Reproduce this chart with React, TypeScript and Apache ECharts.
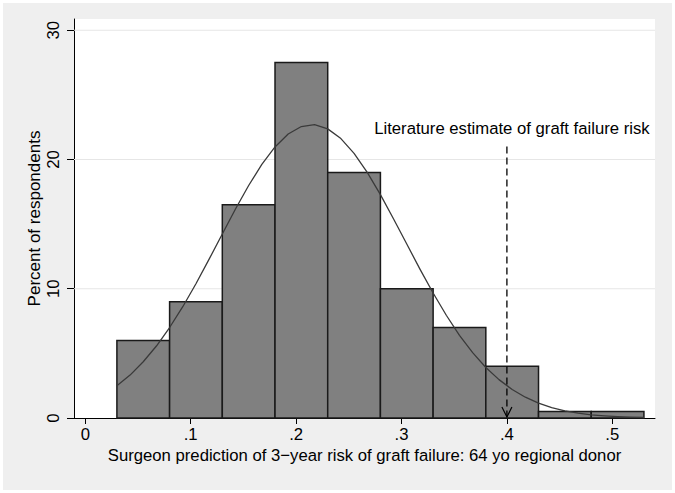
import React, { useEffect, useRef } from 'react';
import * as echarts from 'echarts';

// Histogram bins (lower/upper edges) and percent of respondents
const binLower = [0.03, 0.08, 0.13, 0.18, 0.23, 0.28, 0.33, 0.38, 0.43, 0.48];
const binUpper = [0.08, 0.13, 0.18, 0.23, 0.28, 0.33, 0.38, 0.43, 0.48, 0.53];
const percents = [6, 9, 16.5, 27.5, 19, 10, 7, 4, 0.5, 0.5];

// Overlaid normal density curve
const curveX = [0.03, 0.0425, 0.055, 0.0675, 0.08, 0.0925, 0.105, 0.1175, 0.13, 0.1425,
  0.155, 0.1675, 0.18, 0.1925, 0.205, 0.2175, 0.23, 0.2425, 0.255, 0.2675, 0.28, 0.2925,
  0.305, 0.3175, 0.33, 0.3425, 0.355, 0.3675, 0.38, 0.3925, 0.405, 0.4175, 0.43, 0.4425,
  0.455, 0.4675, 0.48, 0.4925, 0.505, 0.5175, 0.53];
const curveY = [2.49, 3.32, 4.35, 5.57, 7.0, 8.61, 10.39, 12.29, 14.24, 16.17,
  17.99, 19.62, 20.97, 21.97, 22.55, 22.69, 22.37, 21.62, 20.47, 19.0, 17.28, 15.4,
  13.46, 11.52, 9.67, 7.95, 6.4, 5.06, 3.91, 2.97, 2.21, 1.61, 1.15, 0.8,
  0.55, 0.37, 0.24, 0.16, 0.1, 0.06, 0.04];

const xTicks = [0, 0.1, 0.2, 0.3, 0.4, 0.5];
const yTicks = [0, 10, 20, 30];
const gridValues = [10, 20, 30];

const literatureEstimate = 0.4;
const arrowTop = 21;
const annotationY = 22.4;
const annotationText = 'Literature estimate of graft failure risk';
const xTitle = 'Surgeon prediction of 3\u2212year risk of graft failure: 64 yo regional donor';
const yTitle = 'Percent of respondents';

const X_MIN = -0.0107;
const X_MAX = 0.5405;
const Y_MIN = 0;
const Y_MAX = 30.87;

const FONT = 'Liberation Sans, Arial, sans-serif';
const FS = 16.7;

export default function App() {
  const ref = useRef<HTMLDivElement>(null);

  useEffect(() => {
    document.body.style.margin = '0';
    if (!ref.current) return;
    const chart = echarts.init(ref.current, undefined, { renderer: 'svg' });

    const bars = binLower.map((lo, i) => [lo, binUpper[i], percents[i]]);
    const curve = curveX.map((x, i) => [x, curveY[i]]);

    const fmtX = (v: number) => {
      if (Math.abs(v) < 1e-9) return '0';
      return v.toFixed(1).replace(/^0\./, '.');
    };

    chart.setOption({
      animation: false,
      backgroundColor: '#EFEFEF',
      grid: {
        left: 71,
        top: 16,
        right: 17,
        bottom: 72,
        show: true,
        backgroundColor: '#FFFFFF',
        borderWidth: 0,
      },
      xAxis: {
        type: 'value',
        min: X_MIN,
        max: X_MAX,
        name: xTitle,
        nameLocation: 'middle',
        nameGap: 29,
        nameMoveOverlap: false,
        nameTextStyle: { fontFamily: FONT, fontSize: FS, color: '#000' },
        axisLine: { show: true, onZero: false, lineStyle: { color: '#000', width: 1 } },
        axisTick: { show: true, length: 6, customValues: xTicks, lineStyle: { color: '#000' } },
        axisLabel: {
          customValues: xTicks,
          formatter: fmtX,
          fontFamily: FONT,
          fontSize: FS,
          color: '#000',
          margin: 8,
        },
        splitLine: { show: false },
      },
      yAxis: {
        type: 'value',
        min: Y_MIN,
        max: Y_MAX,
        name: yTitle,
        nameLocation: 'middle',
        nameGap: 31,
        nameMoveOverlap: false,
        nameTextStyle: { fontFamily: FONT, fontSize: 17, color: '#000' },
        axisLine: { show: true, onZero: false, lineStyle: { color: '#000', width: 1 } },
        axisTick: { show: true, length: 7, customValues: yTicks, lineStyle: { color: '#000' } },
        axisLabel: {
          customValues: yTicks,
          rotate: 90,
          fontFamily: FONT,
          fontSize: FS,
          color: '#000',
          margin: 12,
        },
        splitLine: { show: false },
      },
      series: [
        {
          type: 'custom',
          name: 'grid',
          z: 1,
          silent: true,
          data: gridValues.map((v) => [v]),
          encode: { y: 0 },
          renderItem: (params: any, api: any) => {
            const v = api.value(0);
            const a = api.coord([X_MIN, v]);
            const b = api.coord([X_MAX, v]);
            return {
              type: 'line',
              shape: { x1: a[0], y1: a[1], x2: b[0], y2: b[1] },
              style: { stroke: '#E6E6E6', lineWidth: 1 },
            };
          },
        },
        {
          type: 'custom',
          name: 'histogram',
          z: 2,
          data: bars,
          encode: { x: [0, 1], y: 2 },
          renderItem: (params: any, api: any) => {
            const p0 = api.coord([api.value(0), api.value(2)]);
            const p1 = api.coord([api.value(1), 0]);
            return {
              type: 'rect',
              shape: { x: p0[0], y: p0[1], width: p1[0] - p0[0], height: p1[1] - p0[1] },
              style: { fill: '#808080', stroke: '#1A1A1A', lineWidth: 1.5 },
            };
          },
        },
        {
          type: 'line',
          name: 'normal',
          z: 3,
          data: curve,
          smooth: false,
          showSymbol: false,
          symbol: 'none',
          lineStyle: { color: '#3A3A3A', width: 1.3, join: 'round' },
        },
        {
          type: 'custom',
          name: 'arrow',
          z: 4,
          silent: true,
          data: [[literatureEstimate, arrowTop, annotationY]],
          encode: { x: 0, y: [1, 2] },
          renderItem: (params: any, api: any) => {
            const top = api.coord([api.value(0), api.value(1)]);
            const tip = api.coord([api.value(0), 0]);
            const txt = api.coord([api.value(0), api.value(2)]);
            return {
              type: 'group',
              children: [
                {
                  type: 'line',
                  shape: { x1: top[0], y1: top[1], x2: tip[0], y2: tip[1] - 1 },
                  style: { stroke: '#000', lineWidth: 1.3, lineDash: [7, 4] },
                },
                {
                  type: 'polyline',
                  shape: {
                    points: [
                      [tip[0] - 5, tip[1] - 11],
                      [tip[0], tip[1] - 1],
                      [tip[0] + 5, tip[1] - 11],
                    ],
                  },
                  style: { stroke: '#000', lineWidth: 1.2, fill: 'none' },
                },
                {
                  type: 'text',
                  x: txt[0] + 5,
                  y: txt[1],
                  style: {
                    text: annotationText,
                    fontFamily: FONT,
                    fontSize: FS,
                    fill: '#000',
                    align: 'center',
                    verticalAlign: 'middle',
                  },
                },
              ],
            };
          },
        },
      ],
    });

    return () => chart.dispose();
  }, []);

  return (
    <div style={{ position: 'absolute', left: 0, top: 0, width: 675, height: 493, background: '#FFFFFF' }}>
      <div ref={ref} style={{ position: 'absolute', left: 3, top: 3, width: 669, height: 487 }} />
    </div>
  );
}
